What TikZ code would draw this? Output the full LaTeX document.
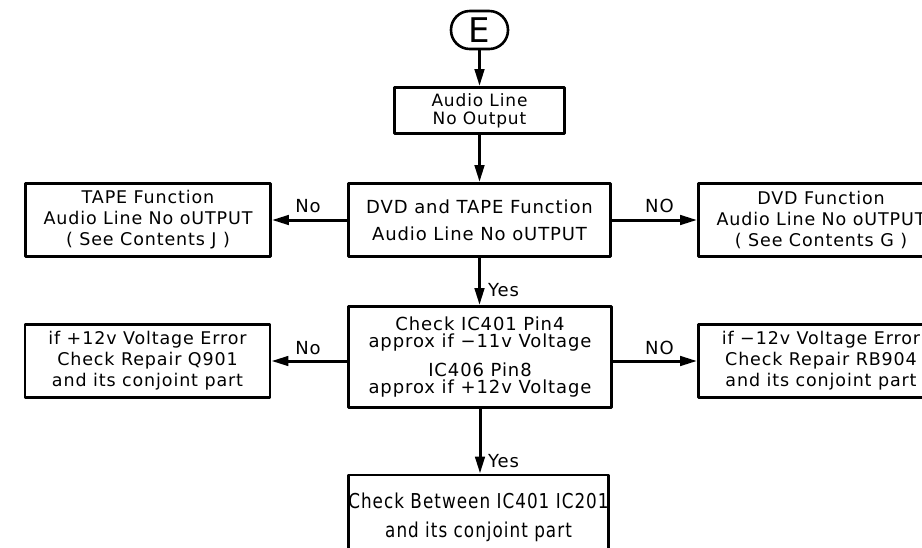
\documentclass[tikz,border=0pt]{standalone}
\usepackage{fontspec}
\setmainfont{DejaVu Sans}[LetterSpace=5]
\newfontfamily\botfont{DejaVu Sans}[LetterSpace=5,FakeStretch=0.82]
\usetikzlibrary{arrows.meta}
\begin{document}
\begin{tikzpicture}[x=1pt,y=-1pt,
  box/.style={draw, line width=2.9pt, line join=round, inner sep=0pt, align=center},
  arr/.style={line width=3pt, -{Triangle[length=17pt,width=9.5pt]}},
  lbl/.style={font=\fontsize{18}{20}\selectfont, inner sep=0pt},
  sidebox/.style={box, minimum width=245pt, minimum height=73pt, font=\fontsize{17.5}{21}\selectfont},
]
\useasboundingbox (0,0) rectangle (922,547);
\clip (0,0) rectangle (922,547);

\node[draw, line width=2.6pt, rounded corners=18.8pt, minimum width=57pt, minimum height=38pt,
      inner sep=0pt, font=\fontsize{34}{34}\selectfont] (E) at (479.5,30) {E};

\node[box, minimum width=170pt, minimum height=46pt, font=\fontsize{17}{18}\selectfont]
  (audio) at (479.5,110.5) {Audio Line\\No Output};

\node[box, minimum width=262pt, minimum height=73pt, font=\fontsize{18}{27}\selectfont]
  (dt) at (479.5,220) {DVD and TAPE Function\\Audio Line No oUTPUT};

\node[sidebox] (tape) at (148,220) {TAPE Function\\Audio Line No oUTPUT\\( See Contents J )};
\node[sidebox] (dvd) at (821,220) {DVD Function\\Audio Line No oUTPUT\\( See Contents G )};

\node[box, minimum width=263pt, minimum height=101pt, font=\fontsize{18}{17.5}\selectfont]
  (chk) at (480,357) {Check IC401 Pin4\\approx if −11v Voltage\\[11pt]IC406 Pin8\\approx if +12v Voltage};

\node[sidebox] (left2) at (147.5,361) {if +12v Voltage Error\\Check Repair Q901\\and its conjoint part};
\node[sidebox] (right2) at (821,361) {if −12v Voltage Error\\Check Repair RB904\\and its conjoint part};

\node[box, minimum width=260pt, minimum height=84pt, font=\botfont\fontsize{20.5}{29}\selectfont]
  (bot) at (478.5,517) {Check Between IC401 IC201\\and its conjoint part};

\draw[arr] (E.south) -- (E.south |- audio.north);
\draw[arr] (audio.south) -- (audio.south |- dt.north);
\draw[arr] (dt.west) -- (tape.east);
\draw[arr] (dt.east) -- (dvd.west);
\draw[arr] (dt.south) -- (dt.south |- chk.north);
\draw[arr] (left2.east -| chk.west) -- (left2.east);
\draw[arr] (right2.west -| chk.east) -- (right2.west);
\draw[arr] (chk.south) -- (chk.south |- bot.north);

\node[lbl, anchor=base] (no1) at (308,212) {No};
\node[lbl, anchor=base] (no2) at (659.5,212) {NO};
\node[lbl, anchor=base] (no3) at (308,354) {No};
\node[lbl, anchor=base] (no4) at (659.5,354) {NO};
\node[lbl, anchor=base west] (yes1) at (488,296) {Yes};
\node[lbl, anchor=base west] (yes2) at (488,467) {Yes};
\end{tikzpicture}
\end{document}
